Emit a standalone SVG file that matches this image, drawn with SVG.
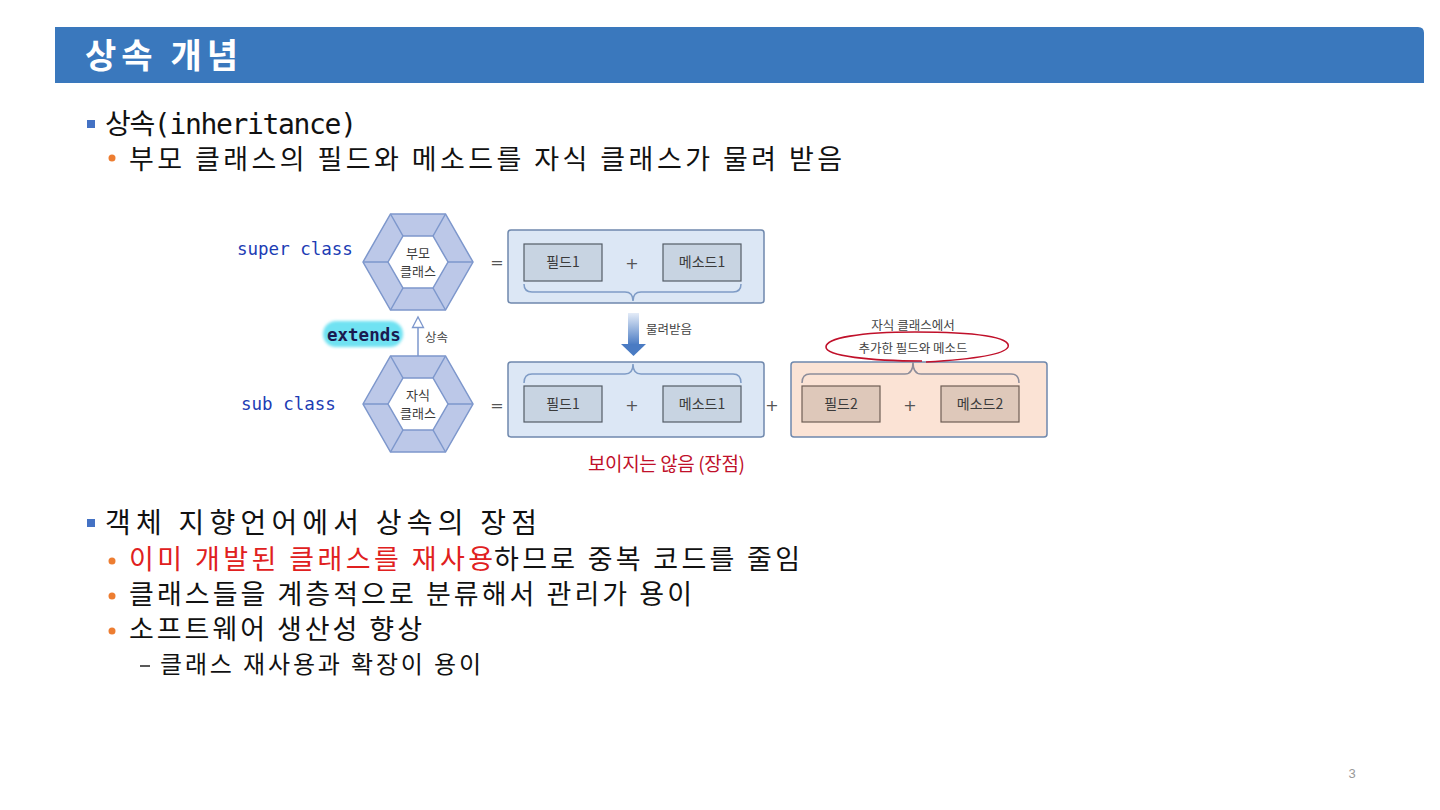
<svg xmlns="http://www.w3.org/2000/svg" width="1440" height="810" viewBox="0 0 1440 810">
<style>
.kr{font-family:"Noto Sans CJK KR","Noto Sans",sans-serif;}
.body{font-family:"Noto Sans CJK KR","Noto Sans",sans-serif;font-size:27px;fill:#111;}
.mono{font-family:"DejaVu Sans Mono","Liberation Mono",monospace;}
.lbl{font-family:"Noto Sans CJK KR","Noto Sans",sans-serif;font-size:14px;fill:#3a3a3a;text-anchor:middle;}
.hl{font-family:"Noto Sans CJK KR","Noto Sans",sans-serif;font-size:13px;fill:#3a3a3a;text-anchor:middle;}
.sm{font-family:"Noto Sans CJK KR","Noto Sans",sans-serif;font-size:12.5px;fill:#444;}
.op{font-family:"DejaVu Sans","Liberation Sans",sans-serif;font-size:16px;fill:#555;text-anchor:middle;}
.cont{fill:#DCE7F5;stroke:#6F88AD;stroke-width:1.5;}
.contR{fill:#FBE3D5;stroke:#6F88AD;stroke-width:1.5;}
.box{fill:#C8D4E2;stroke:#545c66;stroke-width:1.2;}
.boxR{fill:#DEC8BA;stroke:#6e5e55;stroke-width:1.2;}
.brace{fill:none;stroke:#7F9CC6;stroke-width:1.5;}
.braceR{fill:none;stroke:#8d8d9a;stroke-width:1.5;}
.hexo{fill:#BCC8E8;stroke:#7D97CC;stroke-width:1.5;}
.hexi{fill:#ffffff;stroke:#7D97CC;stroke-width:1.5;}
.hexl{stroke:#7D97CC;stroke-width:1.5;}
.orange{fill:#ED7D31;}
.sq{fill:#4472C4;}
</style>
<defs>
<g id="hex">
<polygon class="hexo" points="-55,0 -27.5,-48 27.5,-48 55,0 27.5,48 -27.5,48"/>
<line class="hexl" x1="-55" y1="0" x2="-30" y2="0"/>
<line class="hexl" x1="55" y1="0" x2="30" y2="0"/>
<line class="hexl" x1="-27.5" y1="-48" x2="-15" y2="-26"/>
<line class="hexl" x1="27.5" y1="-48" x2="15" y2="-26"/>
<line class="hexl" x1="-27.5" y1="48" x2="-15" y2="26"/>
<line class="hexl" x1="27.5" y1="48" x2="15" y2="26"/>
<polygon class="hexi" points="-30,0 -15,-26 15,-26 30,0 15,26 -15,26"/>
</g>
<linearGradient id="arrowGrad" x1="0" y1="0" x2="0" y2="1">
<stop offset="0" stop-color="#E4ECF8"/>
<stop offset="1" stop-color="#4A7BC3"/>
</linearGradient>
<filter id="soft" x="-10%" y="-30%" width="120%" height="160%">
<feGaussianBlur stdDeviation="1.5"/>
</filter>
</defs>

<rect width="1440" height="810" fill="#ffffff"/>

<!-- Title bar -->
<g id="title">
<path d="M55,27 L1418,27 Q1424,27 1424,33 L1424,83 L55,83 Z" fill="#3A78BD"/>
<text x="85" y="68" class="kr" font-size="34" font-weight="bold" fill="#ffffff" textLength="153" lengthAdjust="spacing">상속 개념</text>
</g>

<!-- Text body -->
<g id="text-top">
<rect class="sq" x="87" y="120" width="8" height="8"/>
<text x="105" y="134" class="kr" font-size="28" fill="#111" textLength="252" lengthAdjust="spacing">상속<tspan class="mono">(inheritance)</tspan></text>
<circle class="orange" cx="112" cy="158" r="3.5"/>
<text x="129" y="169" class="body" textLength="713" lengthAdjust="spacing">부모 클래스의 필드와 메소드를 자식 클래스가 물려 받음</text>
</g>

<g id="text-bottom">
<rect class="sq" x="87" y="519" width="8" height="8"/>
<text x="105" y="533" class="kr" font-size="28" fill="#111" textLength="432" lengthAdjust="spacing">객체 지향언어에서 상속의 장점</text>
<circle class="orange" cx="112" cy="561" r="3.5"/>
<text x="129" y="569" class="body" style="fill:#E02020" textLength="364" lengthAdjust="spacing">이미 개발된 클래스를 재사용</text>
<text x="494" y="569" class="body" textLength="306" lengthAdjust="spacing">하므로 중복 코드를 줄임</text>
<circle class="orange" cx="112" cy="596" r="3.5"/>
<text x="129" y="604" class="body" textLength="563" lengthAdjust="spacing">클래스들을 계층적으로 분류해서 관리가 용이</text>
<circle class="orange" cx="112" cy="631" r="3.5"/>
<text x="129" y="639" class="body" textLength="293" lengthAdjust="spacing">소프트웨어 생산성 향상</text>
<line x1="140" y1="666" x2="150" y2="666" stroke="#222" stroke-width="1.5"/>
<text x="160" y="673" class="kr" font-size="24" fill="#111" textLength="321" lengthAdjust="spacing">클래스 재사용과 확장이 용이</text>
</g>

<!-- Connectors -->
<g id="connectors">
<line x1="418" y1="356" x2="418" y2="327" stroke="#7D97CC" stroke-width="1.5"/>
<polygon points="412.5,327.5 418,317 423.5,327.5" fill="#ffffff" stroke="#7D97CC" stroke-width="1.3"/>
<rect x="628" y="313" width="11" height="32" fill="url(#arrowGrad)"/>
<polygon points="621,344 646,344 633.5,356" fill="#4A7BC3"/>
</g>

<!-- Super class hexagon -->
<g id="node-super">
<use href="#hex" x="418" y="262"/>
<text class="hl" x="418" y="258">부모</text>
<text class="hl" x="418" y="276">클래스</text>
</g>
<g id="label-super">
<text x="237" y="255" class="mono" font-size="17.5" fill="#1C3CB4">super class</text>
</g>

<!-- Sub class hexagon -->
<g id="node-sub">
<use href="#hex" x="418" y="404"/>
<text class="hl" x="418" y="400">자식</text>
<text class="hl" x="418" y="418">클래스</text>
</g>
<g id="label-sub">
<text x="241" y="410" class="mono" font-size="17.5" fill="#1C3CB4">sub class</text>
</g>

<g id="label-extends">
<rect x="323" y="321" width="80" height="26" rx="13" fill="#6FE2F2" filter="url(#soft)"/>
<text x="327" y="341" class="mono" font-size="17.5" font-weight="bold" fill="#1A1A50">extends</text>
<text x="425" y="342" class="sm" font-size="12">상속</text>
</g>

<!-- Super class members -->
<g id="node-super-members">
<text class="op" x="497" y="268">=</text>
<rect class="cont" x="508" y="230" width="256" height="73" rx="3"/>
<rect class="box" x="524" y="244" width="78" height="37"/>
<text class="lbl" x="563" y="267">필드1</text>
<text class="op" x="632" y="269">+</text>
<rect class="box" x="663" y="244" width="78" height="37"/>
<text class="lbl" x="702" y="267">메소드1</text>
<path class="brace" d="M524,284 Q524,292 532,292 L625,292 Q633,292 633,301 Q633,292 641,292 L733,292 Q741,292 741,284"/>
</g>

<g id="label-inherit">
<text x="646" y="334" class="sm">물려받음</text>
</g>

<!-- Sub class members -->
<g id="node-sub-members">
<text class="op" x="497" y="411">=</text>
<rect class="cont" x="508" y="362" width="256" height="75" rx="3"/>
<path class="brace" d="M524,383 Q524,374 532,374 L625,374 Q633,374 633,364 Q633,374 641,374 L733,374 Q741,374 741,383"/>
<rect class="box" x="524" y="386" width="78" height="36"/>
<text class="lbl" x="563" y="409">필드1</text>
<text class="op" x="632" y="411">+</text>
<rect class="box" x="663" y="386" width="78" height="36"/>
<text class="lbl" x="702" y="409">메소드1</text>
</g>

<g id="label-hidden">
<text x="588" y="471" class="kr" font-size="19" fill="#C0102A" textLength="157" lengthAdjust="spacing">보이지는 않음 (장점)</text>
</g>

<!-- Added members -->
<g id="node-added">
<text class="op" x="772" y="411">+</text>
<rect class="contR" x="791" y="362" width="256" height="75" rx="3"/>
<path class="braceR" d="M802,383 Q802,374 810,374 L905,374 Q913,374 913,362 Q913,374 921,374 L1011,374 Q1019,374 1019,383"/>
<rect class="boxR" x="802" y="386" width="78" height="36"/>
<text class="lbl" x="841" y="409">필드2</text>
<text class="op" x="910" y="411">+</text>
<rect class="boxR" x="941" y="386" width="78" height="36"/>
<text class="lbl" x="980" y="409">메소드2</text>
</g>

<g id="label-added">
<text x="913" y="330" class="sm" text-anchor="middle">자식 클래스에서</text>
<text x="913" y="353" class="sm" text-anchor="middle">추가한 필드와 메소드</text>
<path d="M926,362 C960,360 1004,356 1008,347 C1012,337 975,332 915,332 C860,332 826,338 826,347 C826,356 870,361 922,361" fill="none" stroke="#C0102A" stroke-width="1.6"/>
</g>

<g id="page-number">
<text x="1352" y="778" font-family="Liberation Sans, sans-serif" font-size="13" fill="#999" text-anchor="middle">3</text>
</g>
</svg>
